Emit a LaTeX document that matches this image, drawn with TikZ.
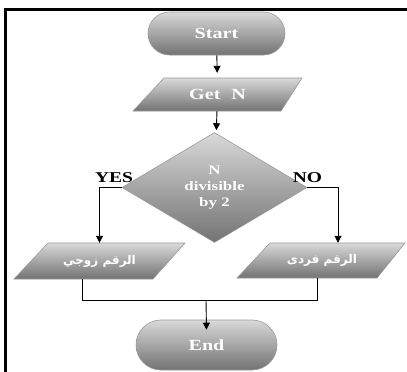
\documentclass[tikz,border=0pt]{standalone}
\usepackage{fontspec}
\setmainfont{Liberation Serif}
\newfontfamily\lblfont[FakeStretch=1.3]{Liberation Serif}
\newfontfamily\arabicfont[Script=Arabic]{DejaVu Sans}
\TeXXeTstate=1
\usetikzlibrary{shapes.geometric,arrows.meta}
\begin{document}
\begin{tikzpicture}[x=1pt,y=-1pt,
  shade3d/.style={top color=black!15, bottom color=black!55, draw=black!40, line width=0.6pt},
  term/.style={shade3d, rectangle, inner sep=0pt, text=white, font=\lblfont\bfseries\fontsize{15.5}{17}\selectfont},
  ghost/.style={rectangle, inner sep=0pt, text=white},
  decbox/.style={shade3d, diamond, inner sep=0pt, minimum width=185pt, minimum height=110pt, text=white, align=center, font=\lblfont\bfseries\fontsize{13}{16}\selectfont},
  lbl/.style={font=\lblfont\bfseries\fontsize{15}{17}\selectfont, text=black, inner sep=0pt, anchor=base},
  arr/.style={-{Triangle[width=7pt,length=7pt]}, line width=0.9pt},
  ln/.style={line width=0.9pt},
  arab/.style={font=\arabicfont\bfseries\fontsize{12}{14}\selectfont, text=white}
]
\useasboundingbox (0,0) rectangle (407,372);
% frame
\draw[line width=3pt] (5.5,372) -- (5.5,9) -- (407,9);

% terminals
\node[term, minimum width=137pt, minimum height=43pt, rounded corners=21.5pt] (start) at (216.5,33.5) {Start};
\node[term, minimum width=141pt, minimum height=50pt, rounded corners=25pt] (end) at (206.5,345) {End};

% Get N parallelogram
\path[shade3d] (164,78) -- (302,78) -- (281,111) -- (133,111) -- cycle;
\node[ghost, minimum width=140pt, minimum height=33pt, font=\lblfont\bfseries\fontsize{15.5}{17}\selectfont] (getn) at (217.5,94.5) {Get\hspace{0.7em}N};

% decision
\node[decbox] (dec) at (214.5,187.5) {N\\divisible\\by 2};

% output parallelograms
\path[shade3d] (48,243) -- (185,243) -- (153,279) -- (14,279) -- cycle;
\node[ghost, minimum width=138pt, minimum height=36pt, arab] (even) at (99.5,261) {\beginR الرقم زوجي\endR};
\path[shade3d] (270,243) -- (405,243) -- (377,278) -- (237,278) -- cycle;
\node[ghost, minimum width=138pt, minimum height=35pt, arab] (odd) at (322,260.5) {\beginR الرقم فردى\endR};

% labels
\node[lbl] (yes) at (114,182) {YES};
\node[lbl] (no) at (307.5,182) {NO};

% connectors
\draw[arr, shorten >=5pt] (start) -- (getn);
\draw[arr, shorten >=3pt] (getn) -- (dec);
\draw[arr] (dec.west) -| (even.north);
\draw[arr] (dec.east) -| ([xshift=16pt]odd.north);
\coordinate (mj) at (206,300);
\draw[ln] ([xshift=-17.5pt]even.south) |- (mj);
\draw[ln] ([xshift=-5pt]odd.south) |- (mj);
\draw[arr] (mj) -- ([yshift=-10pt]end.north);
\end{tikzpicture}
\end{document}
